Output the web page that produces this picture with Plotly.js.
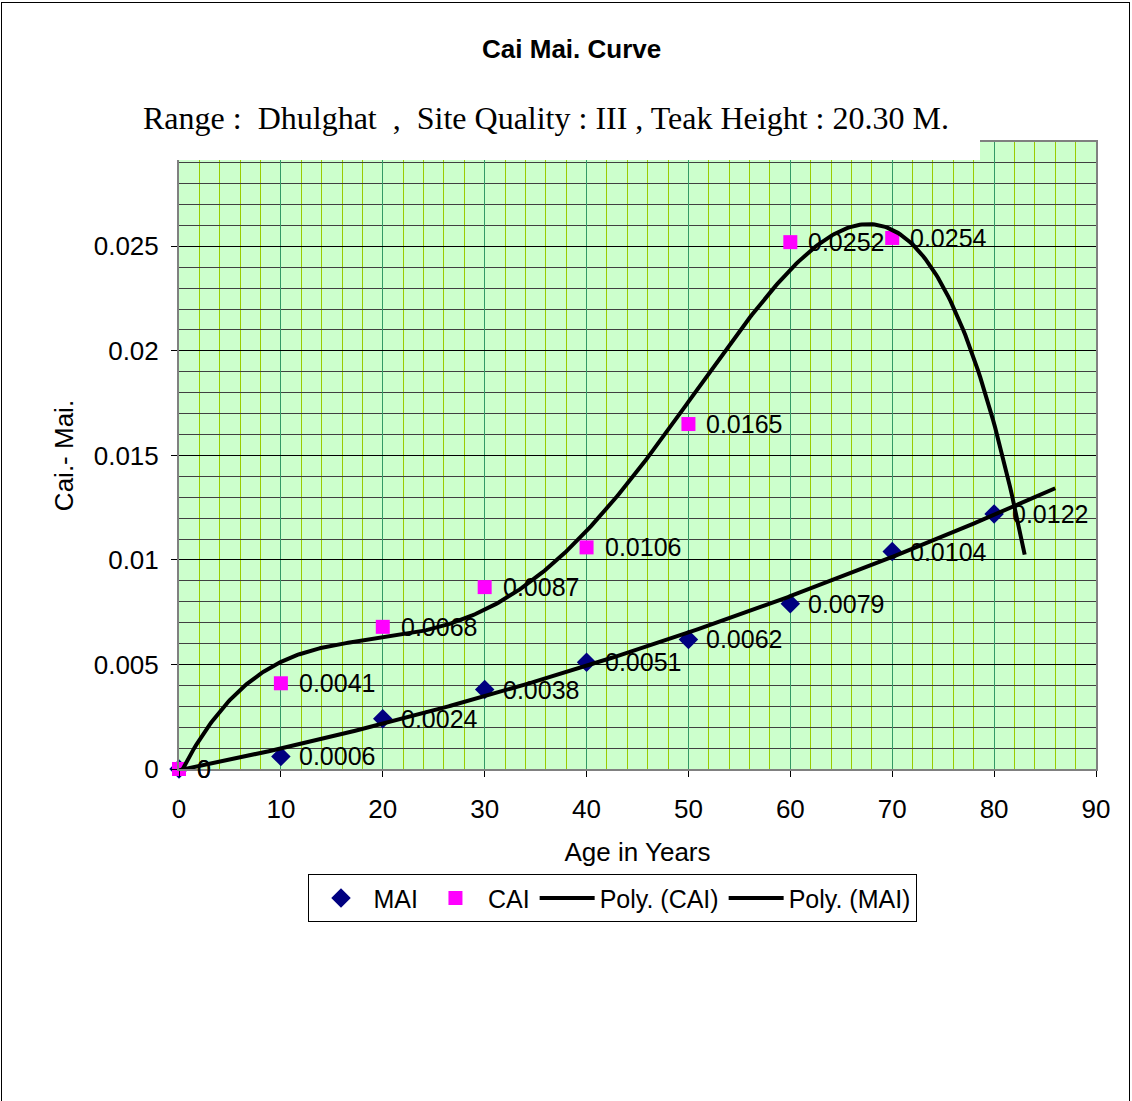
<!DOCTYPE html>
<html><head><meta charset="utf-8">
<script src="https://cdn.plot.ly/plotly-3.0.1.min.js"></script>
<style>
body{margin:0;background:#fff;overflow:hidden}
#chart{width:1132px;height:1101px;position:absolute;left:0;top:0}
#frame{position:absolute;left:1px;top:2px;width:1127px;height:1200px;border:1px solid #000;pointer-events:none}
</style></head><body>
<div id="chart"></div><div id="frame"></div>
<script>
const ages = [0, 10, 20, 30, 40, 50, 60, 70, 80];
const maiValues = [0, 0.0006, 0.0024, 0.0038, 0.0051, 0.0062, 0.0079, 0.0104, 0.0122];
const maiLabels = ['0', '0.0006', '0.0024', '0.0038', '0.0051', '0.0062', '0.0079', '0.0104', '0.0122'];
const caiAges = [0, 10, 20, 30, 40, 50, 60, 70];
const caiValues = [0, 0.0041, 0.0068, 0.0087, 0.0106, 0.0165, 0.0252, 0.0254];
const caiLabels = ['0', '0.0041', '0.0068', '0.0087', '0.0106', '0.0165', '0.0252', '0.0254'];
const xTicks = [0, 10, 20, 30, 40, 50, 60, 70, 80, 90];
const yTicks = [0, 0.005, 0.01, 0.015, 0.02, 0.025];
const yTickText = ['0', '0.005', '0.01', '0.015', '0.02', '0.025'];
const caiTrendOrder = 4;
const maiTrendOrder = 2;
const caiTrendEnd = 83;
const maiTrendEnd = 86;

function polyfit(xs, ys, order) {
  const n = order + 1;
  const A = [], b = [];
  for (let i = 0; i < n; i++) { A.push(new Array(n).fill(0)); b.push(0); }
  for (let k = 0; k < xs.length; k++) {
    const t = xs[k] / 100;
    for (let i = 0; i < n; i++) {
      b[i] += ys[k] * Math.pow(t, i);
      for (let j = 0; j < n; j++) A[i][j] += Math.pow(t, i + j);
    }
  }
  for (let c = 0; c < n; c++) {
    let p = c;
    for (let r = c + 1; r < n; r++) if (Math.abs(A[r][c]) > Math.abs(A[p][c])) p = r;
    [A[c], A[p]] = [A[p], A[c]]; [b[c], b[p]] = [b[p], b[c]];
    for (let r = c + 1; r < n; r++) {
      const f = A[r][c] / A[c][c];
      for (let j = c; j < n; j++) A[r][j] -= f * A[c][j];
      b[r] -= f * b[c];
    }
  }
  const coef = new Array(n).fill(0);
  for (let r = n - 1; r >= 0; r--) {
    let s = b[r];
    for (let j = r + 1; j < n; j++) s -= A[r][j] * coef[j];
    coef[r] = s / A[r][r];
  }
  return coef;
}
function polyval(coef, x) { const t = x / 100; let s = 0; for (let i = coef.length - 1; i >= 0; i--) s = s * t + coef[i]; return s; }
function trend(xs, ys, order, end) {
  const c = polyfit(xs, ys, order);
  const tx = [], ty = [];
  for (let i = 0; i <= 400; i++) { const x = xs[0] + (end - xs[0]) * i / 400; tx.push(x); ty.push(polyval(c, x)); }
  return {tx, ty};
}
const caiT = trend(caiAges, caiValues, caiTrendOrder, caiTrendEnd);
const maiT = trend(ages, maiValues, maiTrendOrder, maiTrendEnd);

const FONT = 'Liberation Sans, Arial, sans-serif';
const traces = [
  {x: ages, y: maiValues, type: 'scatter', mode: 'markers', name: 'MAI', cliponaxis: false,
   marker: {symbol: 'diamond', size: 15, color: '#000080'}},
  {x: caiAges, y: caiValues, type: 'scatter', mode: 'markers', name: 'CAI', cliponaxis: false,
   marker: {symbol: 'square', size: 14, color: '#FF00FF'}},
  {x: caiT.tx, y: caiT.ty, type: 'scatter', mode: 'lines', name: 'Poly. (CAI)', line: {color: '#000', width: 4}},
  {x: maiT.tx, y: maiT.ty, type: 'scatter', mode: 'lines', name: 'Poly. (MAI)', line: {color: '#000', width: 4}}
];

const labelAnnotations = [];
function addLabels(xs, ys, labels) {
  for (let i = 0; i < xs.length; i++) {
    labelAnnotations.push({x: xs[i], y: ys[i], xref: 'x', yref: 'y', text: labels[i], showarrow: false,
      xanchor: 'left', yanchor: 'middle', xshift: 16, font: {family: FONT, size: 25, color: '#000'}});
  }
}
addLabels(ages, maiValues, maiLabels);
addLabels(caiAges, caiValues, caiLabels);

const layout = {
  width: 1132, height: 1101,
  margin: {l: 179, r: 36, t: 142, b: 332},
  paper_bgcolor: '#fff', plot_bgcolor: '#CCFFCC',
  font: {family: FONT, size: 26, color: '#000'},
  title: {text: '<b>Cai Mai. Curve</b>', font: {family: FONT, size: 26, color: '#000'}, x: 0.505, xanchor: 'center', y: 0.956, yanchor: 'middle'},
  showlegend: true,
  legend: {orientation: 'h', x: 0.4722, xanchor: 'center', y: -0.168, yanchor: 'top', bgcolor: '#fff', bordercolor: '#000', borderwidth: 1,
           itemwidth: 55, font: {family: FONT, size: 25, color: '#000'}, traceorder: 'normal'},
  xaxis: {range: [0, 90], tickmode: 'array', tickvals: xTicks, ticks: 'outside', ticklen: 6, tickcolor: '#000', ticklabelstandoff: 10,
          showline: true, linecolor: '#808080', linewidth: 2, mirror: true, zeroline: false,
          showgrid: true, gridcolor: '#339966', gridwidth: 1,
          minor: {dtick: 2, tick0: 0, showgrid: true, gridcolor: '#99CC00', gridwidth: 1},
          title: {text: 'Age in Years', font: {family: FONT, size: 26}, standoff: 20},
          tickfont: {family: FONT, size: 26}},
  yaxis: {range: [0, 0.02999], tickmode: 'array', tickvals: yTicks, ticktext: yTickText, ticks: 'outside', ticklen: 6, tickcolor: '#000', ticklabelstandoff: 7,
          showline: true, linecolor: '#808080', linewidth: 2, mirror: true, zeroline: false,
          showgrid: true, gridcolor: '#000', gridwidth: 1,
          minor: {tickmode: 'linear', dtick: 0.001, tick0: 0, showgrid: true, gridcolor: '#404040', gridwidth: 1},
          title: {text: 'Cai.- Mai.', font: {family: FONT, size: 26}, standoff: 13},
          tickfont: {family: FONT, size: 26}},
  shapes: [
    {type: 'rect', xref: 'paper', yref: 'paper', x0: -0.03, x1: 0.8735, y0: 0.9713, y1: 1.05, fillcolor: '#fff', line: {width: 0}, layer: 'above'}
  ],
  annotations: [
    {text: 'Range :  Dhulghat  ,  Site Quality : III , Teak Height : 20.30 M.', xref: 'paper', yref: 'paper', x: 0.4, y: 1.038, xanchor: 'center', yanchor: 'middle',
     showarrow: false, font: {family: 'Liberation Serif, Times New Roman, serif', size: 32, color: '#000'}}
  ].concat(labelAnnotations)
};
Plotly.newPlot('chart', traces, layout, {displayModeBar: false, staticPlot: true});
</script></body></html>
